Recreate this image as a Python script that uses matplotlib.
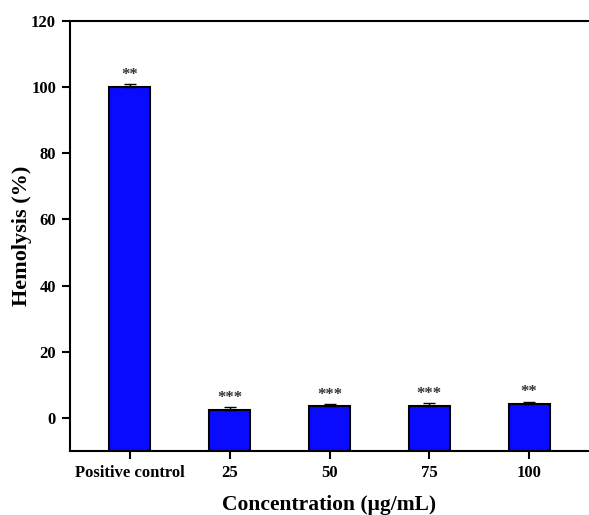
import matplotlib
matplotlib.use("Agg")
import matplotlib.pyplot as plt
import numpy as np

categories = ["Positive control", "25", "50", "75", "100"]
values = [100.0, 2.4, 3.7, 3.7, 4.2]
errors = [0.9, 0.8, 0.5, 0.8, 0.7]
stars = ["**", "***", "***", "***", "**"]

plt.rcParams['font.family'] = ['Liberation Serif', 'DejaVu Serif']
plt.rcParams['font.weight'] = 'bold'

fig = plt.figure(figsize=(5.89, 5.15), dpi=100)
ax = fig.add_axes([70/589, 1-451/515, 1-70/589, (451-21)/515])

ymin, ymax = -10, 120
x = np.arange(len(categories))
vals = np.array(values)
ax.bar(x, vals - ymin, bottom=ymin, width=0.41, color='#0a0aff', edgecolor='black',
       linewidth=1.5, zorder=2)
ax.errorbar(x, vals, yerr=[np.zeros(len(errors)), errors], fmt='none', ecolor='black',
            elinewidth=1, capsize=4, capthick=1, zorder=3)
for xi, v, e, s in zip(x, values, errors, stars):
    ax.annotate(s, (xi, v + e), xytext=(0, 1), textcoords='offset points',
                ha='center', va='bottom', fontsize=12, color='#333333')

ax.set_xlim(-0.6, 4.6)
ax.set_ylim(ymin, ymax)
ax.set_yticks([0, 20, 40, 60, 80, 100, 120])
ax.set_xticks(x)
ax.set_xticklabels(categories)
ax.tick_params(axis='both', direction='out', length=6, width=1.5, labelsize=12, pad=4)
for lab in ax.get_xticklabels() + ax.get_yticklabels():
    lab.set_fontweight('bold')
ax.spines['right'].set_visible(False)
for sp in ['left', 'bottom', 'top']:
    ax.spines[sp].set_linewidth(1.5)
ax.set_ylabel("Hemolysis (%)", fontsize=16, fontweight='bold', labelpad=-1)
ax.set_xlabel("Concentration (μg/mL)", fontsize=15.5, fontweight='bold', labelpad=10)

fig.savefig("out.png", dpi=100)
